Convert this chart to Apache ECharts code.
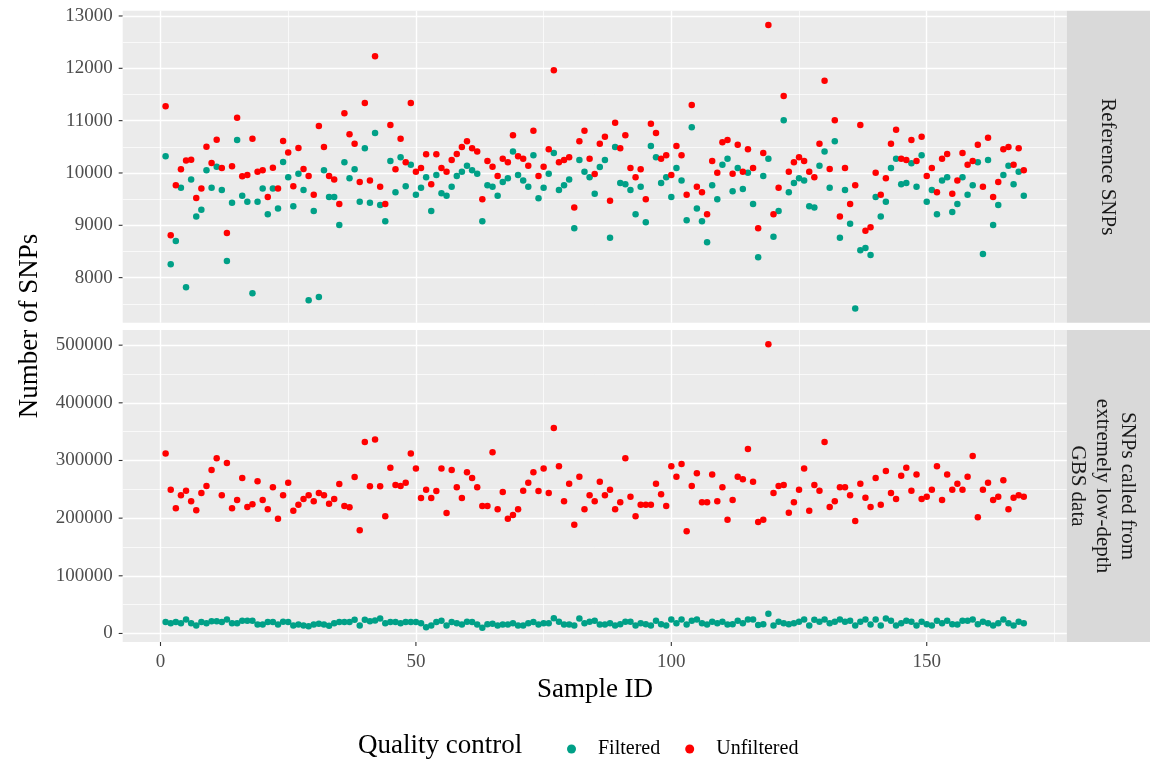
<!DOCTYPE html>
<html>
<head>
<meta charset="utf-8">
<script src="https://cdn.jsdelivr.net/npm/echarts@6/dist/echarts.min.js"></script>
<style>
  html, body { margin: 0; background: #fff; }
  #chart { width: 1150px; height: 765px; }
</style>
</head>
<body>
<div id="chart"></div>
<script>
// Reference SNPs panel
var refFiltered = [
  10318, 8255, 8701, 9720, 7815, 9873, 9166, 9299, 10051, 9720,
  10121, 9675, 8319, 9433, 10631, 9567, 9452, 7701, 9452, 9701,
  9210, 9701, 9319, 10210, 9917, 9363, 9987, 9675, 7567, 9274,
  7631, 10051, 9541, 9541, 9006, 10204, 9898, 10070, 9452, 10471,
  9433, 10764, 9389, 9076, 10229, 9631, 10299, 9745, 10159, 9586,
  9720, 9917, 9274, 9962, 9611, 9567, 9739, 9943, 10025, 10140,
  10051, 9987, 9076, 9764, 9739, 9567, 9828, 9898, 10408, 9962,
  9854, 9739, 10338, 9516, 9720, 9987, 10382, 9675, 9764, 9873,
  8943, 10248, 10025, 9917, 9605, 10115, 10248, 8764, 10497, 9809,
  9783, 9675, 9210, 9739, 9057, 10516, 10299, 9809, 9917, 9541,
  10096, 9854, 9096, 10873, 9319, 9076, 8675, 9764, 9497, 10159,
  10274, 9650, 10096, 9694, 10006, 9408, 8389, 9943, 10274, 8783,
  9274, 11006, 9631, 9809, 9898, 9854, 9363, 9338, 10140, 10408,
  9720, 10605, 8764, 9675, 9032, 7408, 8522, 8567, 8433, 9541,
  9166, 9452, 10096, 10274, 9783, 9809, 10185, 9739, 10338, 9452,
  9675, 9210, 9854, 9917, 9255, 9408, 9917, 9586, 9764, 10204,
  8452, 10248, 9006, 9389, 9962, 10140, 9783, 10025, 9567
];
var refUnfiltered = [
  11274, 8809, 9764, 10070, 10236, 10255, 9522, 9701, 10503, 10191,
  10637, 10096, 8854, 10127, 11057, 9936, 9962, 10656, 10025, 10051,
  9541, 10102, 9701, 10611, 10389, 9745, 10478, 10076, 9943, 9586,
  10898, 10497, 9943, 9873, 9408, 11140, 10739, 10560, 9828, 11337,
  9854, 12229, 9739, 9408, 10917, 10070, 10656, 10204, 11337, 10025,
  10096, 10357, 9783, 10357, 10096, 10025, 10248, 10363, 10497, 10605,
  10471, 10408, 9497, 10229, 10121, 9943, 10274, 10204, 10720, 10318,
  10274, 10140, 10809, 9943, 10121, 10452, 11962, 10204, 10248, 10299,
  9338, 10605, 10809, 10274, 9981, 10560, 10694, 9471, 10962, 10471,
  10720, 10096, 9917, 10070, 9497, 10943, 10764, 10274, 10338, 9962,
  10516, 10338, 9586, 11299, 9739, 9631, 9210, 10229, 10006, 10586,
  10631, 9987, 10541, 10025, 10452, 10096, 8943, 10382, 12828, 9210,
  9720, 11471, 10025, 10204, 10299, 10229, 10025, 9917, 10560, 11764,
  10076, 11006, 9166, 10096, 9408, 9764, 10917, 8898, 8962, 10006,
  9586, 9898, 10560, 10828, 10274, 10248, 10631, 10229, 10694, 9943,
  10096, 9631, 10274, 10363, 9605, 9854, 10382, 10159, 10229, 10541,
  9739, 10675, 9541, 9828, 10452, 10497, 10159, 10471, 10051
];

// SNPs called from extremely low-depth GBS data
var gbsFiltered = [
  19700, 17900, 19700, 17900, 24300, 17900, 13900, 19700, 17900, 21400,
  21400, 19700, 24300, 17900, 17900, 22000, 22000, 22000, 15600, 15600,
  19700, 19700, 15600, 20300, 19700, 13900, 15600, 13900, 12700, 15600,
  16800, 15600, 13300, 17900, 19700, 19700, 19700, 23700, 13900, 23700,
  21400, 22600, 26000, 17900, 19700, 19700, 17900, 19700, 19700, 19700,
  17900, 11000, 13900, 19700, 22000, 13900, 19700, 17900, 15600, 20300,
  19700, 15600, 9800, 16200, 16800, 13900, 15600, 15600, 17900, 13900,
  13900, 17900, 19700, 15600, 17900, 17900, 26600, 20300, 15600, 15600,
  13900, 26000, 17900, 20300, 22000, 15600, 15600, 17900, 13900, 16200,
  20300, 20300, 13900, 17900, 16200, 13900, 22000, 16200, 13900, 24300,
  17900, 24300, 15600, 22000, 24300, 17900, 15600, 20300, 17900, 20300,
  15600, 16200, 22000, 17900, 24300, 24300, 14500, 16200, 34100, 13900,
  20300, 17900, 16200, 17900, 20300, 24300, 13900, 23700, 20300, 24300,
  17900, 20300, 24300, 20300, 22000, 13900, 20300, 24300, 15600, 24300,
  13900, 26000, 22000, 13900, 17900, 22000, 20300, 13900, 20300, 16200,
  13900, 22000, 17900, 22000, 16200, 15600, 22000, 22000, 24300, 16200,
  20300, 17900, 13900, 17900, 24300, 17900, 13900, 20300, 17900
];
var gbsUnfiltered = [
  311900, 249400, 217000, 239600, 247700, 229200, 213500, 243600, 255800, 283600,
  303800, 239600, 295700, 217000, 231500, 269700, 219300, 224000, 263900, 231500,
  215300, 253500, 199100, 239600, 261600, 213000, 223400, 233200, 239600, 229200,
  243600, 239600, 225100, 233200, 259300, 221100, 218700, 271400, 178800, 332200,
  255200, 336200, 255200, 203100, 287600, 257500, 255800, 261600, 311900, 285900,
  235000, 249400, 235000, 247100, 285900, 208900, 283600, 253500, 235000, 279500,
  269700, 253500, 221100, 221100, 314200, 215300, 245400, 199100, 205400, 215300,
  247700, 261600, 279500, 247100, 285900, 243600, 356500, 289900, 229200, 259800,
  188700, 272000, 215300, 239600, 229200, 263300, 239600, 249400, 215300, 227400,
  303800, 237300, 203100, 223400, 223400, 223400, 259800, 241300, 221100, 289900,
  272000, 294000, 177100, 255800, 277800, 227400, 227400, 275500, 229200, 253500,
  197300, 231500, 272000, 267400, 320000, 263300, 193300, 197300, 501700, 243600,
  255800, 257500, 209500, 227400, 249400, 285900, 213000, 257500, 247700, 332200,
  219300, 229200, 253500, 253500, 239600, 195000, 259800, 235500, 219300, 269700,
  223400, 281800, 243600, 233200, 273700, 287600, 247700, 275500, 233200, 237300,
  249400, 289900, 231500, 275500, 249400, 259800, 249400, 272000, 307900, 201400,
  249400, 261600, 231500, 237300, 265600, 215300, 235500, 239600, 237300
];

var xTicks = [0, 50, 100, 150];
var xMinor = [25, 75, 125, 175];
var refTicks = [8000, 9000, 10000, 11000, 12000, 13000];
var refMinor = [7500, 8500, 9500, 10500, 11500, 12500];
var gbsTicks = [0, 100000, 200000, 300000, 400000, 500000];
var gbsMinor = [50000, 150000, 250000, 350000, 450000];

var FONT = 'Liberation Serif';
var TEAL = '#00A087';
var RED = '#FF0000';
var TICK_LEN = 4;

function toPoints(vals) {
  return vals.map(function (v, i) { return [i + 1, v]; });
}

// ggplot style 5% expansion
function expand(lo, hi) {
  var pad = (hi - lo) * 0.05;
  return [lo - pad, hi + pad];
}

function rangeOf(a, b) {
  var all = a.concat(b);
  return expand(Math.min.apply(null, all), Math.max.apply(null, all));
}

var xRange = expand(1, refFiltered.length);
var refRange = rangeOf(refFiltered, refUnfiltered);
var gbsRange = rangeOf(gbsFiltered, gbsUnfiltered);

function gridLines(idx, xs, ys, xMin, yMaj, yMin) {
  var data = [];
  xMin.forEach(function (v) { data.push({ xAxis: v, lineStyle: { width: 0.7 } }); });
  yMin.forEach(function (v) { data.push({ yAxis: v, lineStyle: { width: 0.7 } }); });
  xs.forEach(function (v) { data.push({ xAxis: v, lineStyle: { width: 1.4 } }); });
  yMaj.forEach(function (v) { data.push({ yAxis: v, lineStyle: { width: 1.4 } }); });
  return {
    type: 'scatter',
    xAxisIndex: idx,
    yAxisIndex: idx,
    data: [],
    z: 1,
    silent: true,
    markLine: {
      z: 1,
      silent: true,
      symbol: ['none', 'none'],
      label: { show: false },
      lineStyle: { color: '#FFFFFF', type: 'solid' },
      emphasis: { disabled: true },
      data: data,
    },
  };
}

var labelStyle = {
  fontFamily: FONT, fontSize: 19, color: '#4D4D4D',
  formatter: function (v) { return String(v); },
};

function yAxisOf(idx, range, ticks) {
  return {
    type: 'value',
    gridIndex: idx,
    min: range[0],
    max: range[1],
    axisLine: { show: false },
    splitLine: { show: false },
    axisTick: { show: false },
    axisLabel: Object.assign({ margin: 10, customValues: ticks }, labelStyle),
  };
}

function dots(name, idx, color, vals) {
  return {
    name: name, type: 'scatter', xAxisIndex: idx, yAxisIndex: idx, z: 10,
    symbolSize: 6.5, itemStyle: { color: color, opacity: 1 }, data: toPoints(vals),
  };
}

var baseGraphic = [
  { type: 'rect', shape: { x: 1066.7, y: 10.8, width: 84, height: 312 }, style: { fill: '#D9D9D9' } },
  { type: 'rect', shape: { x: 1066.7, y: 330, width: 84, height: 312 }, style: { fill: '#D9D9D9' } },
  {
    type: 'text', x: 1108, y: 166.8, rotation: -Math.PI / 2,
    style: { text: 'Reference SNPs', fontFamily: FONT, fontSize: 21, fill: '#1A1A1A', align: 'center', verticalAlign: 'middle' },
  },
  {
    type: 'text', x: 1103, y: 486, rotation: -Math.PI / 2,
    style: {
      text: 'SNPs called from\nextremely low-depth\nGBS data', fontFamily: FONT, fontSize: 21,
      lineHeight: 25, fill: '#1A1A1A', align: 'center', verticalAlign: 'middle',
    },
  },
  {
    type: 'text', x: 30, y: 326, rotation: Math.PI / 2,
    style: { text: 'Number of SNPs', fontFamily: FONT, fontSize: 27, fill: '#000000', align: 'center', verticalAlign: 'middle' },
  },
  {
    type: 'text', x: 595, y: 690,
    style: { text: 'Sample ID', fontFamily: FONT, fontSize: 27, fill: '#000000', align: 'center', verticalAlign: 'middle' },
  },
  {
    type: 'text', x: 358, y: 746,
    style: { text: 'Quality control', fontFamily: FONT, fontSize: 27, fill: '#000000', align: 'left', verticalAlign: 'middle' },
  },
];

var option = {
  backgroundColor: '#FFFFFF',
  animation: false,
  grid: [
    { left: 122.7, top: 10.8, width: 944, height: 312, show: true, backgroundColor: '#EBEBEB', borderWidth: 0 },
    { left: 122.7, top: 330, width: 944, height: 312, show: true, backgroundColor: '#EBEBEB', borderWidth: 0 },
  ],
  xAxis: [
    {
      type: 'value', gridIndex: 0, min: xRange[0], max: xRange[1],
      axisLine: { show: false }, axisTick: { show: false },
      axisLabel: { show: false }, splitLine: { show: false },
    },
    {
      type: 'value', gridIndex: 1, min: xRange[0], max: xRange[1],
      axisLine: { show: false }, splitLine: { show: false }, axisTick: { show: false },
      axisLabel: Object.assign({ margin: 11, customValues: xTicks }, labelStyle),
    },
  ],
  yAxis: [
    yAxisOf(0, refRange, refTicks),
    yAxisOf(1, gbsRange, gbsTicks),
  ],
  legend: {
    data: ['Filtered', 'Unfiltered'],
    left: 562,
    top: 734,
    icon: 'circle',
    itemWidth: 9,
    itemHeight: 9,
    itemGap: 25,
    textStyle: { fontFamily: FONT, fontSize: 20, color: '#000000', padding: [0, 0, 0, 17] },
  },
  graphic: baseGraphic,
  series: [
    gridLines(0, xTicks, refTicks, xMinor, refTicks, refMinor),
    gridLines(1, xTicks, gbsTicks, xMinor, gbsTicks, gbsMinor),
    dots('Filtered', 0, TEAL, refFiltered),
    dots('Unfiltered', 0, RED, refUnfiltered),
    dots('Filtered', 1, TEAL, gbsFiltered),
    dots('Unfiltered', 1, RED, gbsUnfiltered),
  ],
};

var chart = echarts.init(document.getElementById('chart'));
chart.setOption(option);

// axis tick marks, placed through the axes' own scales
var tickMarks = [];
var tickLine = { stroke: '#333333', lineWidth: 1.1 };
var leftEdge = chart.convertToPixel({ xAxisIndex: 0 }, xRange[0]);
var bottomEdge = chart.convertToPixel({ yAxisIndex: 1 }, gbsRange[0]);
[[0, refTicks], [1, gbsTicks]].forEach(function (p) {
  p[1].forEach(function (v) {
    var y = chart.convertToPixel({ yAxisIndex: p[0] }, v);
    tickMarks.push({ type: 'line', shape: { x1: leftEdge - TICK_LEN, y1: y, x2: leftEdge, y2: y }, style: tickLine });
  });
});
xTicks.forEach(function (v) {
  var x = chart.convertToPixel({ xAxisIndex: 1 }, v);
  tickMarks.push({ type: 'line', shape: { x1: x, y1: bottomEdge, x2: x, y2: bottomEdge + TICK_LEN }, style: tickLine });
});
chart.setOption({ graphic: baseGraphic.concat(tickMarks) });
</script>
</body>
</html>
